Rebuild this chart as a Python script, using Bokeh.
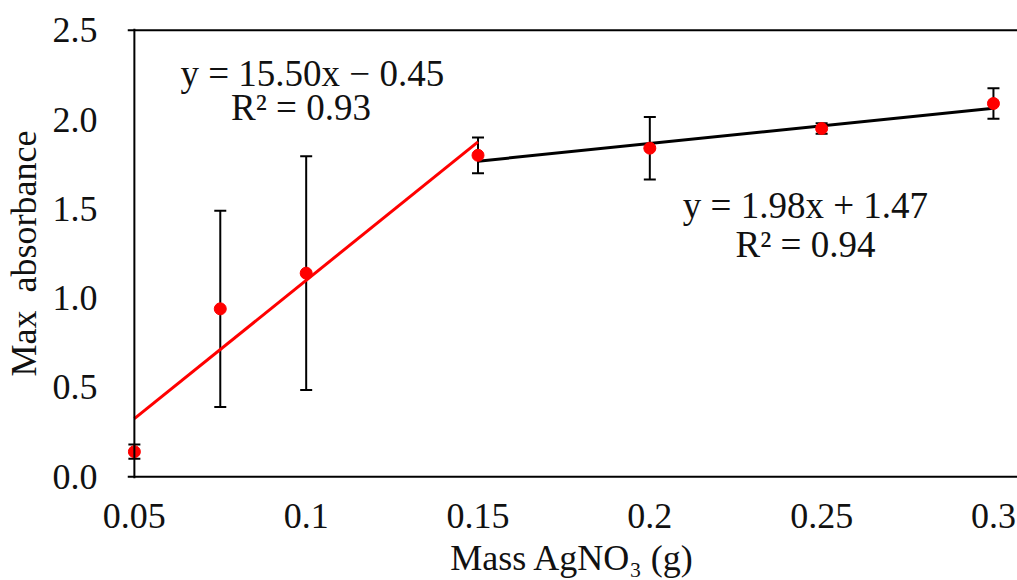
from bokeh.plotting import figure
from bokeh.models import ColumnDataSource, Range1d, Span, Whisker, TeeHead, Label, FixedTicker
from bokeh.embed import file_html
from bokeh.resources import INLINE

# ---- data ----
mass = [0.05, 0.075, 0.10, 0.15, 0.20, 0.25, 0.30]
absorbance = [0.14, 0.94, 1.14, 1.80, 1.84, 1.95, 2.09]
err = [0.04, 0.55, 0.655, 0.10, 0.175, 0.03, 0.085]

fit_slopes = [15.50, 1.98]
fit_intercepts = [-0.45, 1.47]
fit_x = [[0.05, 0.15], [0.15, 0.30]]
fit_colors = ["#FF0000", "#000000"]
fit_eq = ["y = 15.50x \u2212 0.45", "y = 1.98x + 1.47"]
fit_r2 = ["R\u00b2 = 0.93", "R\u00b2 = 0.94"]

x_ticks = [0.05, 0.10, 0.15, 0.20, 0.25, 0.30]
x_tick_labels = ["0.05", "0.1", "0.15", "0.2", "0.25", "0.3"]
y_ticks = [0.0, 0.5, 1.0, 1.5, 2.0, 2.5]
y_tick_labels = ["0.0", "0.5", "1.0", "1.5", "2.0", "2.5"]

FONT = "Liberation Serif"

p = figure(width=1017, height=580, output_backend="svg", toolbar_location=None,
           x_range=Range1d(0.048, 0.307), y_range=Range1d(-0.01, 2.51),
           min_border_left=126, min_border_right=0, min_border_top=28, min_border_bottom=102)
p.outline_line_color = None
p.grid.visible = False
p.background_fill_color = "white"

# axes styling
for ax in (p.xaxis[0], p.yaxis[0]):
    ax.axis_line_color = None
    ax.major_tick_line_color = None
    ax.minor_tick_line_color = None
    ax.major_label_text_font = FONT
    ax.major_label_text_font_size = "36px"
    ax.major_label_text_color = "#111111"
    ax.axis_label_text_font = FONT
    ax.axis_label_text_font_size = "36px"
    ax.axis_label_text_font_style = "normal"
    ax.axis_label_text_color = "#111111"

p.xaxis.ticker = FixedTicker(ticks=x_ticks)
p.xaxis.major_label_overrides = {t: l for t, l in zip(x_ticks, x_tick_labels)}
p.yaxis.ticker = FixedTicker(ticks=y_ticks)
p.yaxis.major_label_overrides = {t: l for t, l in zip(y_ticks, y_tick_labels)}
p.xaxis.major_label_standoff = 19
p.yaxis.major_label_standoff = 24
p.xaxis.axis_label = "Mass AgNO\u2083 (g)"
p.yaxis.axis_label = "Max\u00a0\u00a0absorbance"
p.xaxis.axis_label_standoff = 7
p.yaxis.axis_label_standoff = 6

# frame lines
p.add_layout(Span(location=x_ticks[0], dimension="height", line_color="black", line_width=2))
p.add_layout(Span(location=y_ticks[0], dimension="width", line_color="black", line_width=2))
p.add_layout(Span(location=y_ticks[-1], dimension="width", line_color="black", line_width=2))

# fit lines
for m, b, xs, c in zip(fit_slopes, fit_intercepts, fit_x, fit_colors):
    p.line(xs, [m * x + b for x in xs], line_color=c, line_width=3)

# error bars
src = ColumnDataSource(dict(
    x=mass, y=absorbance,
    lo=[a - e for a, e in zip(absorbance, err)],
    hi=[a + e for a, e in zip(absorbance, err)],
))
p.add_layout(Whisker(source=src, base="x", lower="lo", upper="hi",
                     line_color="black", line_width=2,
                     upper_head=TeeHead(size=12, line_color="black", line_width=2),
                     lower_head=TeeHead(size=12, line_color="black", line_width=2)))

# points
p.scatter("x", "y", source=src, size=12, color="#FF0000")

# equation labels
eq_pos = [(0.1018, 2.26), (0.2453, 1.52)]
r2_pos = [(0.0985, 2.065), (0.2453, 1.30)]
for (ex, ey), (rx, ry), e, r in zip(eq_pos, r2_pos, fit_eq, fit_r2):
    p.add_layout(Label(x=ex, y=ey, text=e, text_font=FONT, text_font_size="37px",
                       text_align="center", text_baseline="middle", text_color="#111111"))
    p.add_layout(Label(x=rx, y=ry, text=r, text_font=FONT, text_font_size="37px",
                       text_align="center", text_baseline="middle", text_color="#111111"))

open("out.html", "w").write(file_html(p, INLINE))
